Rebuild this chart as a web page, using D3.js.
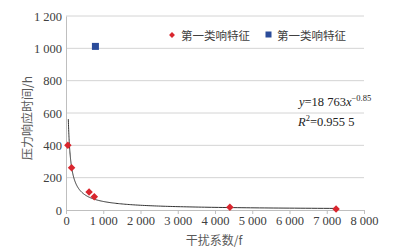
<!DOCTYPE html>
<html><head><meta charset="utf-8">
<script src="https://cdn.jsdelivr.net/npm/d3@7"></script>
<style>html,body{margin:0;padding:0;background:#fff}</style>
</head><body>
<script>
const series1Name = "第一类响特征";
const series2Name = "第一类响特征";
const series1X = [50, 150, 620, 760, 4400, 7250];
const series1Y = [400, 262, 112, 82, 17, 6];
const series2X = [790];
const series2Y = [1012];
const xTicks = [0,1000,2000,3000,4000,5000,6000,7000,8000];
const yTicks = [0,200,400,600,800,1000,1200];
const fitA = 18763, fitB = -0.85, fitRange = [62, 7250];
const xTitle = "干扰系数/f";
const yTitle = "压力响应时间/h";

const W=406,H=252;
const svg=d3.select("body").append("svg").attr("width",W).attr("height",H);
const x=d3.scaleLinear().domain([0,8000]).range([66,364]);
const y=d3.scaleLinear().domain([0,1200]).range([210,16]);
const fmt=d=>d3.format(",")(d).replace(/,/g," ");
const serif="'Liberation Serif','Times New Roman',serif";
const cjk="'Noto Sans CJK SC',sans-serif";

// gridlines
svg.append("g").selectAll("line").data(yTicks.filter(d=>d>0)).join("line")
 .attr("x1",x(0)).attr("x2",x(8000)).attr("y1",d=>y(d)).attr("y2",d=>y(d))
 .attr("stroke","#d4d4d4").attr("stroke-width",1);

// y axis
const ya=svg.append("g").attr("transform",`translate(${x(0)},0)`)
 .call(d3.axisLeft(y).tickValues(yTicks).tickFormat(fmt).tickSize(0).tickPadding(4));
ya.select(".domain").attr("stroke","#bfbfbf");
ya.selectAll("text").attr("font-family",serif).attr("font-size",12.5).attr("fill","#404040");

// x axis
const xa=svg.append("g").attr("transform",`translate(0,${y(0)})`)
 .call(d3.axisBottom(x).tickValues(xTicks).tickFormat(fmt).tickSize(4).tickPadding(2));
xa.select(".domain").attr("stroke","#bfbfbf");
xa.selectAll("line").attr("stroke","#bfbfbf");
xa.selectAll("text").attr("font-family",serif).attr("font-size",12.5).attr("fill","#404040");

// fit curve
const fx=d3.range(0,201).map(i=>fitRange[0]*Math.pow(fitRange[1]/fitRange[0],i/200));
svg.append("path").datum(fx)
 .attr("d",d3.line().x(d=>x(d)).y(d=>y(fitA*Math.pow(d,fitB))))
 .attr("fill","none").attr("stroke","#333").attr("stroke-width",1);

// series 1 diamonds
const dsym=d3.symbol().type(d3.symbolDiamond2).size(36);
svg.append("g").selectAll("path").data(series1X.map((v,i)=>[v,series1Y[i]])).join("path")
 .attr("d",dsym).attr("transform",d=>`translate(${x(d[0])},${y(d[1])})`)
 .attr("fill","#d9262e");

// series 2 squares
svg.append("g").selectAll("rect").data(series2X.map((v,i)=>[v,series2Y[i]])).join("rect")
 .attr("x",d=>x(d[0])-3.5).attr("y",d=>y(d[1])-3.5).attr("width",7).attr("height",7)
 .attr("fill","#2b4c9a");

// legend
const lg=svg.append("g");
lg.append("path").attr("d",d3.symbol().type(d3.symbolDiamond2).size(22)).attr("transform","translate(172,35)").attr("fill","#d9262e");
lg.append("text").attr("x",181).attr("y",39.5).text(series1Name).attr("font-family",cjk).attr("font-size",11.5).attr("fill","#404040");
lg.append("rect").attr("x",265.5).attr("y",31.5).attr("width",6).attr("height",6).attr("fill","#2b4c9a");
lg.append("text").attr("x",277).attr("y",39.5).text(series2Name).attr("font-family",cjk).attr("font-size",11.5).attr("fill","#404040");

// equation
const eq=svg.append("text").attr("x",299).attr("y",106).attr("font-family",serif).attr("font-size",12.5).attr("fill","#222");
eq.append("tspan").attr("font-style","italic").text("y");
eq.append("tspan").text("=18 763");
eq.append("tspan").attr("font-style","italic").text("x");
eq.append("tspan").attr("dy",-5).attr("font-size",8.5).text("−0.85");
const r2=svg.append("text").attr("x",298).attr("y",126).attr("font-family",serif).attr("font-size",12.5).attr("fill","#222");
r2.append("tspan").attr("font-style","italic").text("R");
r2.append("tspan").attr("dy",-5).attr("font-size",8.5).text("2");
r2.append("tspan").attr("dy",5).text("=0.955 5");

// titles
svg.append("text").attr("x",214).attr("y",245).attr("text-anchor","middle")
 .attr("font-family",cjk).attr("font-size",12).attr("fill","#595959").text(xTitle);
svg.append("text").attr("transform","translate(32,118) rotate(-90)").attr("text-anchor","middle")
 .attr("font-family",cjk).attr("font-size",12).attr("fill","#595959").text(yTitle);
</script>
</body></html>
